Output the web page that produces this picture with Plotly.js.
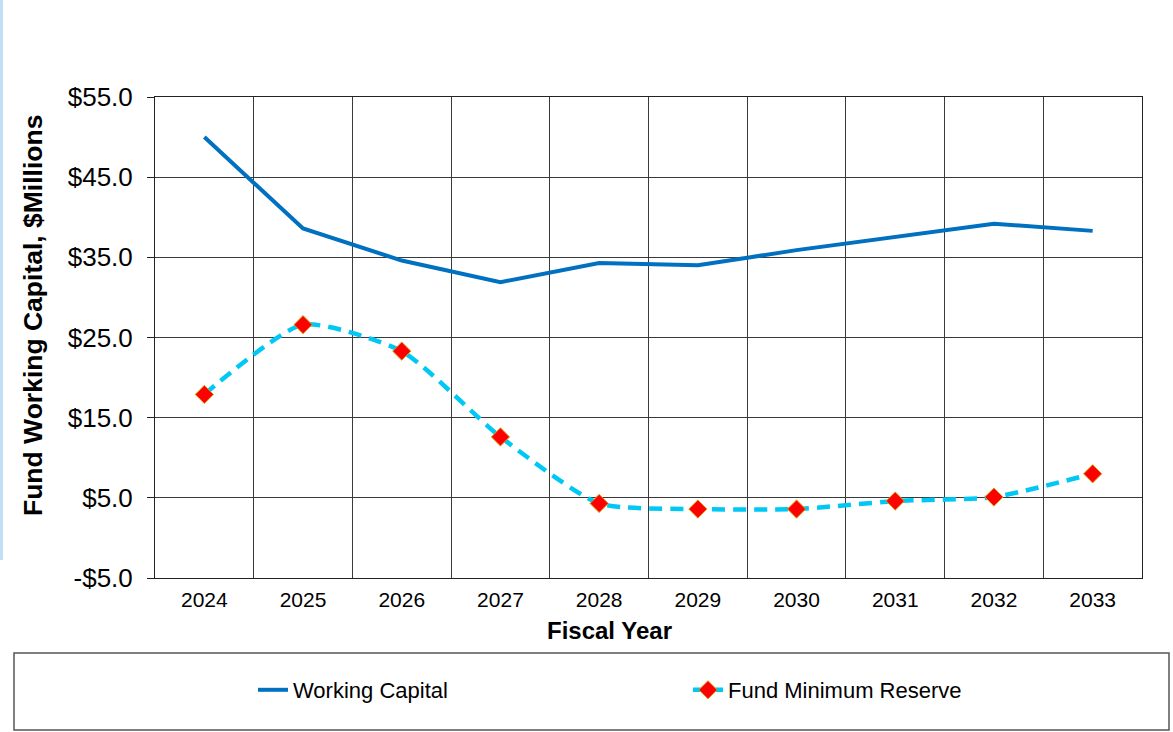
<!DOCTYPE html>
<html>
<head>
<meta charset="utf-8">
<script src="https://cdn.plot.ly/plotly-3.0.1.min.js"></script>
<style>html,body{margin:0;padding:0;background:#fff;}#chart{width:1173px;height:732px;}</style>
</head>
<body>
<div id="chart"></div>
<script>
const years = ['2024','2025','2026','2027','2028','2029','2030','2031','2032','2033'];
const workingCapital = [50.0, 38.6, 34.6, 31.9, 34.3, 34.0, 35.9, 37.5, 39.2, 38.3];
const fundMinimumReserve = [17.9, 26.6, 23.3, 12.6, 4.3, 3.6, 3.6, 4.6, 5.1, 8.0];
const yTickVals = [-5, 5, 15, 25, 35, 45, 55];
const yTickText = ['-$5.0', '$5.0', '$15.0', '$25.0', '$35.0', '$45.0', '$55.0'];

const FONT = 'Liberation Sans, Arial, sans-serif';
const L = 155, R = 1142, T = 97, B = 578;
const px = x => (x - L) / (R - L);
const py = y => (B - y) / (B - T);

const traces = [
  {
    x: years, y: workingCapital, name: 'Working Capital', type: 'scatter', mode: 'lines',
    line: {color: '#0070C0', width: 4}
  },
  {
    x: years, y: fundMinimumReserve, name: 'Fund Minimum Reserve', type: 'scatter', mode: 'lines+markers',
    line: {color: '#00C8F5', width: 4.5, dash: '13px,8px', shape: 'spline', smoothing: 0.6},
    marker: {symbol: 'diamond', size: 14, color: '#FF0000', line: {color: '#D4A017', width: 1}}
  }
];

const layout = {
  width: 1173, height: 732,
  margin: {l: L, r: 1173 - R, t: T, b: 732 - B},
  paper_bgcolor: '#ffffff', plot_bgcolor: '#ffffff',
  font: {family: FONT, color: '#000'},
  showlegend: true,
  legend: {
    orientation: 'h', x: px(253), y: py(690), xanchor: 'left', yanchor: 'middle',
    font: {family: FONT, size: 22, color: '#000'},
    entrywidth: 390, entrywidthmode: 'pixels',
    bgcolor: 'rgba(0,0,0,0)', borderwidth: 0
  },
  xaxis: {
    type: 'category', range: [-0.5, 9.5], tickson: 'boundaries',
    showgrid: true, gridcolor: '#3a3a3a', gridwidth: 1,
    showline: true, linecolor: '#222', linewidth: 1, mirror: true,
    ticks: '', ticklabelstandoff: 3, tickfont: {family: FONT, size: 21, color: '#000'},
    fixedrange: true
  },
  yaxis: {
    range: [-5, 55], tickvals: yTickVals, ticktext: yTickText,
    showgrid: true, gridcolor: '#3a3a3a', gridwidth: 1, zeroline: false,
    showline: true, linecolor: '#222', linewidth: 1, mirror: true,
    ticks: 'outside', ticklen: 7, tickcolor: '#222', ticklabelstandoff: 9,
    tickfont: {family: FONT, size: 26, color: '#000'},
    fixedrange: true
  },
  annotations: [
    {text: '<b>Fiscal Year</b>', xref: 'paper', yref: 'paper', x: px(609), y: py(630),
     xanchor: 'center', yanchor: 'middle', showarrow: false,
     font: {family: FONT, size: 24, color: '#000'}},
    {text: '<b>Fund Working Capital, $Millions</b>', xref: 'paper', yref: 'paper', x: px(33), y: py(316),
     xanchor: 'center', yanchor: 'middle', showarrow: false, textangle: -90,
     font: {family: FONT, size: 26.5, color: '#000'}}
  ],
  shapes: [
    {type: 'rect', xref: 'paper', yref: 'paper', x0: px(14), x1: px(1169), y0: py(653), y1: py(730),
     line: {color: '#555', width: 1.5}, fillcolor: 'rgba(0,0,0,0)', layer: 'below'},
    {type: 'rect', xref: 'paper', yref: 'paper', x0: px(0), x1: px(3), y0: py(560), y1: py(0),
     line: {width: 0}, fillcolor: '#C3DFF7', layer: 'below'}
  ]
};

Plotly.newPlot('chart', traces, layout, {displayModeBar: false, staticPlot: true});
</script>
</body>
</html>
